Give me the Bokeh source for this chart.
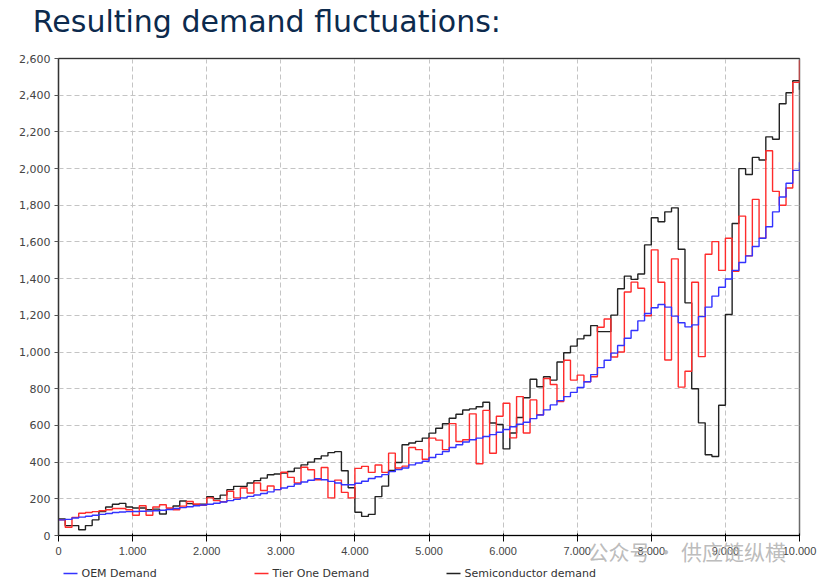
from bokeh.plotting import figure
from bokeh.layouts import column
from bokeh.models import FixedTicker, NumeralTickFormatter, Range1d, LinearAxis
from bokeh.core.properties import value
from bokeh.embed import file_html
from bokeh.resources import INLINE

# ---------------- data ----------------
n_steps = 110
t_end = 10000
time = [k * t_end / n_steps for k in range(n_steps + 1)]

oem_demand = [
    85, 88, 95, 100, 105, 110, 115, 120, 125, 128, 130, 131, 132, 133, 135, 138, 142, 147, 152, 157, 162, 166,
    170, 176, 183, 190, 197, 205, 213, 221, 229, 238, 250, 259, 268, 281, 292, 301, 310, 304, 295, 286, 277, 277,
    285, 296, 311, 320, 332, 348, 359, 368, 385, 395, 405, 425, 442, 458, 480, 495, 510, 522, 531, 540, 550, 563,
    578, 593, 606, 617, 637, 657, 685, 712, 735, 757, 780, 807, 838, 877, 915, 955, 994, 1036, 1075, 1117, 1170, 1210,
    1241, 1259, 1245, 1196, 1160, 1137, 1148, 1193, 1245, 1305, 1353, 1398, 1445, 1488, 1524, 1575, 1620, 1683, 1764, 1845, 1920, 1990,
    2034,
]

tier_one_demand = [
    85, 45, 99, 121, 125, 130, 135, 140, 147, 147, 140, 110, 162, 110, 155, 168, 150, 140, 160, 185, 172, 165,
    205, 190, 184, 241, 205, 259, 232, 286, 245, 270, 250, 345, 317, 286, 372, 358, 304, 371, 205, 302, 235, 205,
    366, 377, 344, 384, 344, 449, 368, 378, 480, 468, 416, 531, 520, 468, 610, 512, 522, 663, 391, 682, 448, 650,
    721, 532, 757, 559, 739, 658, 856, 823, 730, 955, 847, 874, 838, 865, 1135, 1180, 973, 1000, 1327, 1381, 1348, 1198,
    1557, 1380, 957, 1508, 809, 895, 1380, 975, 1533, 1602, 1445, 1620, 1440, 1741, 1524, 1832, 1620, 2097, 1876, 1800, 1894, 2470,
    2590,
]

semiconductor_demand = [
    90, 54, 54, 31, 54, 85, 130, 155, 170, 175, 155, 150, 150, 140, 144, 117, 144, 161, 188, 174, 167, 170,
    211, 200, 220, 250, 268, 268, 286, 299, 313, 331, 335, 340, 349, 367, 385, 400, 418, 434, 452, 457, 353, 260,
    127, 104, 115, 212, 269, 355, 398, 495, 504, 513, 531, 558, 585, 609, 639, 661, 684, 690, 702, 726, 613, 605,
    472, 559, 643, 751, 852, 811, 865, 847, 946, 996, 1032, 1072, 1090, 1144, 1111, 1111, 1201, 1345, 1414, 1396, 1425, 1584,
    1732, 1710, 1764, 1786, 1560, 1268, 800, 614, 440, 431, 710, 1205, 1701, 2000, 1968, 2061, 2047, 2173, 2160, 2353, 2413, 2479,
    2430,
]

x_ticks = [0, 1000, 2000, 3000, 4000, 5000, 6000, 7000, 8000, 9000, 10000]
x_tick_labels = ["0", "1.000", "2.000", "3.000", "4.000", "5.000", "6.000", "7.000", "8.000", "9.000", "10.000"]
y_ticks = [0, 200, 400, 600, 800, 1000, 1200, 1400, 1600, 1800, 2000, 2200, 2400, 2600]

series_names = ["OEM Demand", "Tier One Demand", "Semiconductor demand"]
series_colors = ["#3333ff", "#ff2b2b", "#222222"]

title_text = "Resulting demand fluctuations:"
watermark_text = "公众号  ·  供应链纵横"

# ---------------- main figure ----------------
FONT = "DejaVu Sans"
W = 819
FRAME_L, FRAME_R = 58, 799

p = figure(width=W, height=568, output_backend="svg", toolbar_location=None,
           x_range=Range1d(0, 10000), y_range=Range1d(0, 2600),
           min_border_left=FRAME_L, min_border_right=W - FRAME_R, min_border_top=58, min_border_bottom=29)

p.background_fill_color = "white"
p.border_fill_color = "white"
p.outline_line_color = "#6a6a6a"
p.outline_line_width = 1.5

# title: drawn as the label of a tick-less axis above the frame (centred text,
# trailing no-break spaces shift the visible words to the left edge)
title_axis = LinearAxis(ticker=FixedTicker(ticks=[]))
title_axis.axis_label = title_text + "\u00a0" * 34
title_axis.axis_label_text_font = FONT
title_axis.axis_label_text_font_size = "30px"
title_axis.axis_label_text_font_style = "normal"
title_axis.axis_label_text_color = "#0c2a4d"
title_axis.axis_label_align = "center"
title_axis.axis_label_standoff = 20
title_axis.axis_line_color = None
title_axis.major_tick_line_color = None
title_axis.minor_tick_line_color = None
title_axis.major_tick_out = 0
title_axis.major_tick_in = 0
title_axis.major_label_standoff = 0
title_axis.major_label_text_font_size = "1px"
p.add_layout(title_axis, "above")

for ax in (p.xaxis[0], p.yaxis[0]):
    ax.axis_line_color = "#333333"
    ax.axis_line_width = 1.2
    ax.major_tick_line_color = "#555555"
    ax.major_tick_out = 4
    ax.major_tick_in = 0
    ax.minor_tick_line_color = None
    ax.major_label_text_font = FONT
    ax.major_label_text_font_size = "11px"
    ax.major_label_text_color = "#444444"
    ax.major_label_standoff = 4

xax = p.below[0]
xax.ticker = FixedTicker(ticks=x_ticks)
xax.major_label_overrides = {t: lab for t, lab in zip(x_ticks, x_tick_labels)}
p.yaxis.ticker = FixedTicker(ticks=y_ticks)
p.yaxis.formatter = NumeralTickFormatter(format="0,0")

# watermark drawn as the x-axis label (centred text): ideographic spaces push the
# visible part to the right end, overlapping the tick label row
wm_pad = "\u3000" * 25
xax.axis_label = wm_pad + watermark_text
xax.axis_label_text_font = "Noto Sans CJK SC"
xax.axis_label_text_font_size = "21px"
xax.axis_label_text_font_style = "normal"
xax.axis_label_text_color = "#b4b4b4"
xax.axis_label_text_alpha = 0.9
xax.axis_label_align = "center"
xax.axis_label_standoff = -22

for g in (p.xgrid[0], p.ygrid[0]):
    g.grid_line_color = "#c4c4c4"
    g.grid_line_dash = "5 3"
    g.grid_line_width = 1

p.step(time, semiconductor_demand, mode="after", line_color=series_colors[2], line_width=1.4)
p.step(time, tier_one_demand, mode="after", line_color=series_colors[1], line_width=1.4)
p.step(time, oem_demand, mode="after", line_color=series_colors[0], line_width=1.4)

# ---------------- legend strip (pixel coordinates of the page) ----------------
lg = figure(width=W, height=18, output_backend="svg", toolbar_location=None,
            x_range=Range1d(FRAME_L, FRAME_R), y_range=Range1d(0, 18),
            x_axis_type=None, y_axis_type=None,
            min_border_left=FRAME_L, min_border_right=W - FRAME_R, min_border_top=0, min_border_bottom=0)
lg.outline_line_color = None
lg.background_fill_color = "white"
lg.border_fill_color = "white"
lg.xgrid.visible = False
lg.ygrid.visible = False

item_left = [63, 254, 446]
swatch_len = 14
text_gap = 4
item_y = [13, 13, 13]

lg.segment(x0=item_left, y0=item_y, x1=[v + swatch_len for v in item_left], y1=item_y,
           line_color=series_colors, line_width=1.3)
lg.text(x=[v + swatch_len + text_gap for v in item_left], y=item_y, text=series_names,
        text_font=value(FONT), text_font_size="11px", text_color="#333333",
        text_baseline="middle", text_align="left")

layout = column(p, lg, spacing=0)

open("out.html", "w").write(file_html(layout, INLINE))
